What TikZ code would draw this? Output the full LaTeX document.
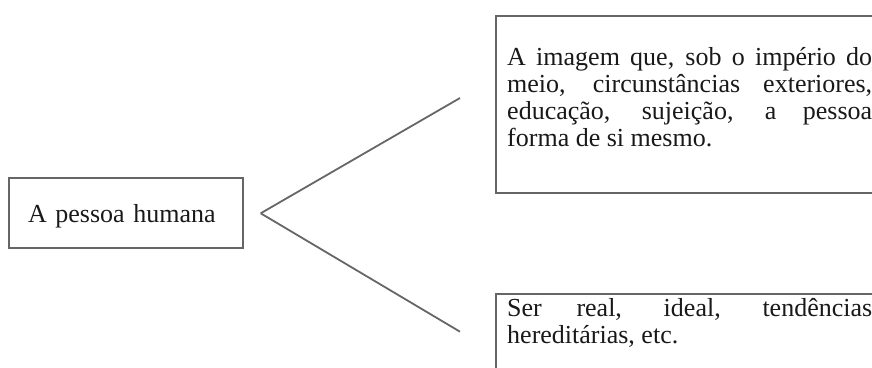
\documentclass[tikz,border=0pt]{standalone}
\usepackage{fontspec}
\setmainfont{Liberation Serif}
\usepackage{tikz}
\hbadness=10000

\begin{document}
\begin{tikzpicture}[x=1pt, y=-1pt]
	\tikzset{BoxStyle/.style = {
			shape=rectangle,
			draw=black!60,
			line width=1.8pt,
			inner sep=0pt,
			anchor=north west
	}}
	\tikzset{TextStyle/.style = {
			anchor=north west,
			inner sep=0pt,
			text width=365pt,
			align=justify,
			text=black!90,
			font=\fontsize{26}{27}\selectfont
	}}
	\useasboundingbox (0,0) rectangle (872,367);
	\node[BoxStyle, anchor=center, minimum width=234pt, minimum height=70pt,
		text width=196pt, align=left, inner xsep=19pt, text height=19.4pt, text depth=0pt,
		text=black!90, font=\fontsize{26}{27}\selectfont] (pessoa) at (126,213) {A pessoa humana};
	\node[BoxStyle, minimum width=400pt, minimum height=176.7pt] (imagem) at (495,15) {};
	\node[BoxStyle, minimum width=400pt, minimum height=100pt] (ser) at (495,293) {};
	\node[TextStyle] (imagemtext) at (507,47.2) {A imagem que, sob o império do\linebreak
		meio, circunstâncias exteriores,\linebreak educação, sujeição, a pessoa\linebreak
		forma de si mesmo.};
	\node[TextStyle] (sertext) at (507,298.2) {Ser real, ideal, tendências\linebreak
		hereditárias, etc.};
	\coordinate (fork) at (260.7,213.3);
	\coordinate (forkup) at (460,98);
	\coordinate (forkdown) at (460,331.7);
	
	\path [-, draw=black!60, line width=1.8pt] (fork) edge (forkup);
	\path [-, draw=black!60, line width=1.8pt] (fork) edge (forkdown);
\end{tikzpicture}
\end{document}
